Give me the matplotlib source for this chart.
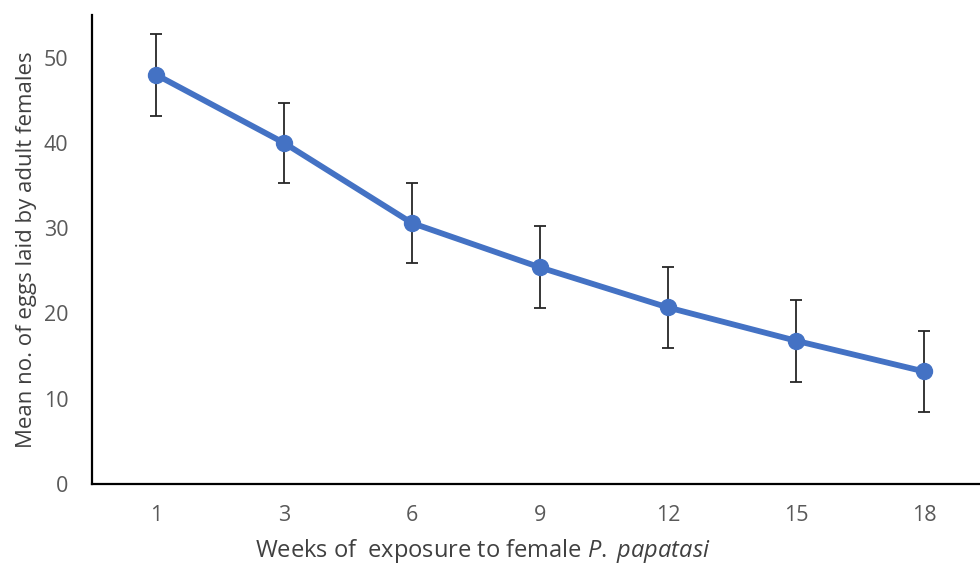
import matplotlib
matplotlib.use("Agg")
import matplotlib.pyplot as plt

weeks = ["1", "3", "6", "9", "12", "15", "18"]
mean_eggs = [48.0, 40.0, 30.6, 25.4, 20.7, 16.8, 13.2]
err = [4.8, 4.7, 4.7, 4.8, 4.8, 4.8, 4.8]
yticks = [0, 10, 20, 30, 40, 50]

plt.rcParams['font.family'] = ['Open Sans', 'DejaVu Sans']
plt.rcParams['mathtext.fontset'] = 'custom'
plt.rcParams['mathtext.it'] = 'Open Sans:italic'
plt.rcParams['mathtext.rm'] = 'Open Sans'

fig = plt.figure(figsize=(9.8, 5.65), dpi=100)
W, H = 980, 565
left, right, top, bottom = 92, 988, 15, 484
ax = fig.add_axes([left / W, (H - bottom) / H, (right - left) / W, (bottom - top) / H])

x = list(range(len(weeks)))
ax.errorbar(x, mean_eggs, yerr=err, fmt='none', ecolor='#262626', elinewidth=1.3,
            capsize=4.5, capthick=1.3, zorder=2)
ax.plot(x, mean_eggs, color='#4472C4', linewidth=4.2, marker='o', markersize=11.5,
        zorder=3)

ax.set_xlim(-0.5, len(weeks) - 0.5)
ax.set_ylim(0, 55)
ax.set_xticks(x)
ax.set_xticklabels(weeks)
ax.set_yticks(yticks)
ax.tick_params(axis='both', length=0, labelsize=15.5, colors='#595959')
ax.tick_params(axis='y', pad=17)
ax.tick_params(axis='x', pad=15)

for s in ['top', 'right']:
    ax.spines[s].set_visible(False)
for s in ['left', 'bottom']:
    ax.spines[s].set_linewidth(1.6)
    ax.spines[s].set_color('black')

ax.set_ylabel("Mean no. of eggs laid by adult females", fontsize=16, color='#404040')
ax.set_xlabel("Weeks of  exposure to female $P.$ $papatasi$", fontsize=17, color='#404040')
ax.yaxis.set_label_coords((37 - left) / (right - left), 0.5)
ax.xaxis.set_label_coords((483 - left) / (right - left), (bottom - 537) / (bottom - top))

fig.savefig("out.png", dpi=100)
